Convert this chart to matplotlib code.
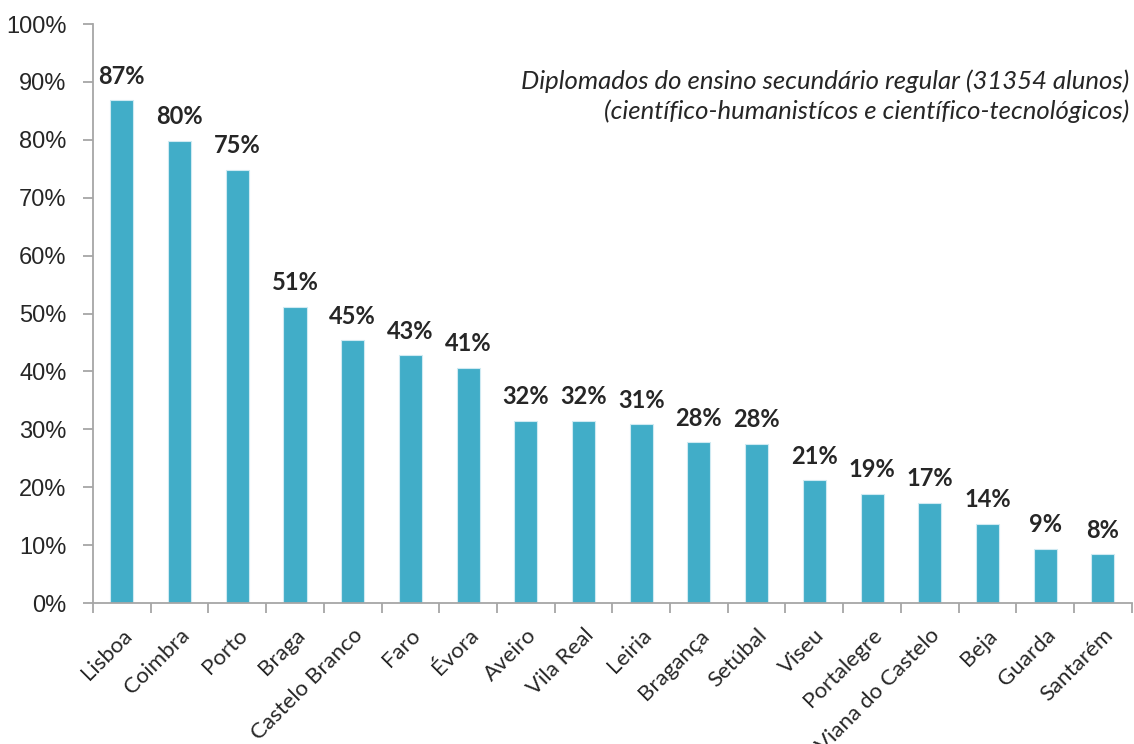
import matplotlib
matplotlib.use("Agg")
import matplotlib.pyplot as plt
import numpy as np
from matplotlib.ticker import FixedLocator, PercentFormatter

categories = ["Lisboa", "Coimbra", "Porto", "Braga", "Castelo Branco", "Faro", "Évora",
              "Aveiro", "Vila Real", "Leiria", "Bragança", "Setúbal", "Viseu", "Portalegre",
              "Viana do Castelo", "Beja", "Guarda", "Santarém"]
values = [86.8, 79.8, 74.8, 51.2, 45.4, 42.8, 40.6, 31.5, 31.5, 30.9, 27.8, 27.5,
          21.2, 18.9, 17.3, 13.7, 9.4, 8.4]
labels = ["87%", "80%", "75%", "51%", "45%", "43%", "41%", "32%", "32%", "31%", "28%", "28%",
          "21%", "19%", "17%", "14%", "9%", "8%"]
title = "Diplomados do ensino secundário regular (31354 alunos)\n(científico-humanistícos e científico-tecnológicos)"

bar_color = "#41ADC8"
axis_color = "#A6A6A6"
text_color = "#262626"

fig = plt.figure(figsize=(11.34, 7.44), dpi=100)
ax = fig.add_axes([0.082, 0.1895, 0.916, 0.7782])

x = np.arange(len(categories))
bars = ax.bar(x, values, width=0.4, color=bar_color, edgecolor="#CFEAF2", linewidth=0.8, zorder=2)

for xi, v, lab in zip(x, values, labels):
    ax.annotate(lab, (xi, v), xytext=(0, 9), textcoords="offset points",
                ha="center", va="bottom", fontsize=17, fontweight="bold",
                family="Lato", color=text_color)

ax.set_xlim(-0.5, len(categories) - 0.5)
ax.set_ylim(0, 100)
ax.set_yticks(np.arange(0, 101, 10))
ax.yaxis.set_major_formatter(PercentFormatter(decimals=0))

ax.set_xticks(x)
ax.set_xticklabels(categories, rotation=45, ha="right", rotation_mode="anchor",
                   fontsize=16, family="Lato", color=text_color)
ax.xaxis.set_minor_locator(FixedLocator(np.arange(-0.5, len(categories), 1.0)))
ax.tick_params(axis="x", which="major", length=0, pad=16)
ax.tick_params(axis="x", which="minor", length=7, width=1.3, color=axis_color, direction="out")
ax.tick_params(axis="y", length=7, width=1.3, color=axis_color, direction="out",
               labelsize=17, labelcolor=text_color, pad=12)
for t in ax.get_yticklabels():
    t.set_family("Liberation Sans")

for s in ["top", "right"]:
    ax.spines[s].set_visible(False)
for s in ["left", "bottom"]:
    ax.spines[s].set_color(axis_color)
    ax.spines[s].set_linewidth(1.3)

fig.text(0.996, 0.871, title, ha="right", va="center", fontsize=18.5, style="italic",
         family="Lato", color=text_color, linespacing=1.3)

fig.savefig("out.png", dpi=100)
